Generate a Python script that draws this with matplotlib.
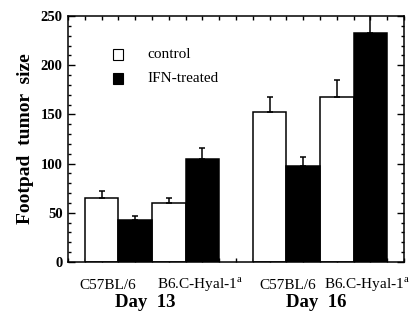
import matplotlib
matplotlib.use("Agg")
import matplotlib.pyplot as plt
import numpy as np
from matplotlib.ticker import MultipleLocator
from matplotlib.patches import Rectangle

plt.rcParams['font.family'] = ['Liberation Serif', 'DejaVu Serif']
plt.rcParams['mathtext.fontset'] = 'custom'
plt.rcParams['mathtext.rm'] = 'Liberation Serif'

groups = ['Day  13', 'Day  16']
strains = ['C57BL/6', r'B6.C-Hyal-1$^{\mathrm{a}}$']
control = [65.5, 59.5, 152.5, 168.0]
control_err = [6.5, 6.0, 15.5, 16.5]
ifn = [43.0, 105.0, 97.5, 232.5]
ifn_err = [4.0, 10.5, 9.5, 25.0]
yticks = [0, 50, 100, 150, 200, 250]

fig = plt.figure(figsize=(4.11, 3.13), dpi=100)
ax = fig.add_axes([68/411, 1-262/313, 336/411, 246/313])

ctrl_x = [1, 3, 6, 8]
ifn_x = [2, 4, 7, 9]
lw = 1.1
ax.bar(ctrl_x, control, width=1.0, color='white', edgecolor='black', linewidth=lw, zorder=2)
ax.bar(ifn_x, ifn, width=1.0, color='black', edgecolor='black', linewidth=lw, zorder=2)
ax.errorbar(ctrl_x, control, yerr=[np.zeros(4), control_err], fmt='none', ecolor='black',
            elinewidth=1.1, capsize=2.5, capthick=1.1, zorder=3)
ax.errorbar(ifn_x, ifn, yerr=[np.zeros(4), ifn_err], fmt='none', ecolor='black',
            elinewidth=1.1, capsize=2.5, capthick=1.1, zorder=3)

ax.set_xlim(0, 10)
ax.set_ylim(0, 250)
ax.set_yticks(yticks)
ax.yaxis.set_minor_locator(MultipleLocator(10))
ax.xaxis.set_major_locator(MultipleLocator(0.5))
ax.tick_params(axis='x', which='major', direction='in', length=3, width=1, top=True, bottom=True, labelbottom=False)
ax.tick_params(axis='y', which='major', direction='in', length=5, width=1, left=True, right=True, pad=4)
ax.tick_params(axis='y', which='minor', direction='in', length=2.5, width=1, left=True, right=True)
for lab in ax.get_yticklabels():
    lab.set_fontweight('bold')
    lab.set_fontsize(10.5)
for s in ax.spines.values():
    s.set_linewidth(1.1)

ax.set_ylabel('Footpad  tumor  size', fontsize=14, fontweight='bold', labelpad=5)

# category labels
strain_pos = [1.17, 3.92, 6.53, 8.9]
group_pos = [2.3, 7.4]
for i, xp in enumerate(strain_pos):
    ax.text(xp, -23.5, strains[i % 2], ha='center', va='center', fontsize=11,
            transform=ax.transData, clip_on=False)
for i, xp in enumerate(group_pos):
    ax.text(xp, -41, groups[i], ha='center', va='center', fontsize=13.5, fontweight='bold',
            transform=ax.transData, clip_on=False)

# legend
for (yc, fc, lab) in [(55, 'white', 'control'), (78, 'black', 'IFN-treated')]:
    fx0 = 113/411; fw = 10/411; fh = 11/313
    fig.patches.append(Rectangle((fx0, 1-yc/313-fh/2), fw, fh, transform=fig.transFigure,
                                 facecolor=fc, edgecolor='black', linewidth=0.8))
    fig.text(147/411, 1-yc/313, lab, ha='left', va='center', fontsize=11)

fig.savefig('out.png', dpi=100)
